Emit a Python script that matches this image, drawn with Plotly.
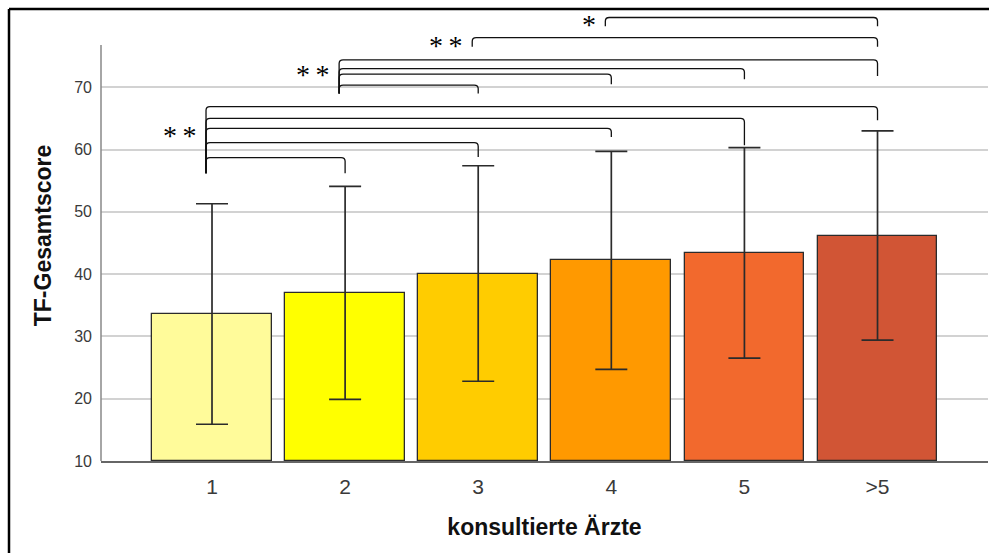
import plotly.graph_objects as go

# Mean TF total score by number of consulted physicians, with SD error bars
categories = ["1", "2", "3", "4", "5", ">5"]
means = [33.6, 37.0, 40.1, 42.2, 43.4, 46.2]
sd = [17.7, 17.1, 17.3, 17.5, 16.9, 16.8]
bar_colors = ["#FFFB9A", "#FFFF00", "#FFCC00", "#FF9900", "#F2692D", "#D15535"]
y_ticks = [10, 20, 30, 40, 50, 60, 70]

# Significance comparisons between groups (indices into categories)
comparisons_from_1 = [(0, 1), (0, 2), (0, 3), (0, 4), (0, 5)]
comparisons_from_2 = [(1, 2), (1, 3), (1, 4), (1, 5)]
comparisons_from_3 = [(2, 5)]
comparisons_from_4 = [(3, 5)]
stars = ["**", "**", "**", "*"]

# Bracket geometry in score units: tops, left drop, right drops, star level
bracket_sets = [
    (comparisons_from_1, [58.7, 61.1, 63.4, 65.0, 66.9], 56.2, [56.2, 58.8, 62.0, 60.7, 64.7], 62.8),
    (comparisons_from_2, [70.35, 72.1, 73.0, 74.4], 69.0, [69.0, 70.5, 71.3, 71.8], 72.6),
    (comparisons_from_3, [77.95], 76.5, [76.5], 77.2),
    (comparisons_from_4, [81.2], 79.8, [79.8], 80.5),
]

W, H = 989, 553
ML, MR, MT, MB = 101, 1, 10, 92
Y_MIN, Y_MAX = 10, 82.4
AXIS_TOP = 76.8
X_MIN, X_MAX = -0.834, 5.83

xs = list(range(len(categories)))

fig = go.Figure()
fig.add_trace(go.Bar(
    x=xs, y=[m - Y_MIN for m in means], base=Y_MIN,
    width=0.9,
    marker=dict(color=bar_colors, line=dict(color="#2b2b2b", width=1.3)),
    error_y=dict(type="data", array=sd, symmetric=True, color="#2b2b2b",
                 thickness=1.7, width=16),
    hoverinfo="skip", showlegend=False,
))

shapes = []
annotations = []
LEFT_NUDGE = -0.045
rx, ry = 0.03, 0.6  # corner rounding in data units


def bracket(x1, x2, top, drop_l, drop_r):
    path = (f"M {x1},{drop_l} L {x1},{top - ry} Q {x1},{top} {x1 + rx},{top} "
            f"L {x2 - rx},{top} Q {x2},{top} {x2},{top - ry} L {x2},{drop_r}")
    return dict(type="path", path=path, xref="x", yref="y",
                line=dict(color="#111111", width=1.3))


for (pairs, tops, drop_l, drops_r, star_y), star in zip(bracket_sets, stars):
    for (a, b), top, dr in zip(pairs, tops, drops_r):
        shapes.append(bracket(a + LEFT_NUDGE, b, top, drop_l, dr))
    a0 = pairs[0][0] + LEFT_NUDGE
    annotations.append(dict(
        x=a0, y=star_y, xref="x", yref="y", text="\u2009".join(star), showarrow=False,
        xanchor="right", yanchor="middle", xshift=-7, yshift=-3,
        font=dict(family="Liberation Serif", size=28, color="#000000"),
    ))

# y axis line only up to the top of the value scale
shapes.append(dict(type="line", xref="paper", yref="y", x0=0, x1=0,
                   y0=Y_MIN, y1=AXIS_TOP, line=dict(color="#888888", width=1.5)))

# outer frame
pw, ph = W - ML - MR, H - MT - MB
fx = (9 - ML) / pw
fy = (H - MB - 9) / ph
shapes.append(dict(type="line", xref="paper", yref="paper", x0=fx, x1=1.2,
                   y0=fy, y1=fy, line=dict(color="#000000", width=2.5)))
shapes.append(dict(type="line", xref="paper", yref="paper", x0=fx, x1=fx,
                   y0=fy, y1=-0.5, line=dict(color="#000000", width=2.5)))

fig.update_layout(
    width=W, height=H,
    margin=dict(l=ML, r=MR, t=MT, b=MB, pad=0),
    plot_bgcolor="white", paper_bgcolor="white",
    font=dict(family="Liberation Sans", color="#333333"),
    bargap=0,
    shapes=shapes, annotations=annotations,
    xaxis=dict(
        range=[X_MIN, X_MAX], tickvals=xs, ticktext=categories,
        showgrid=False, zeroline=False, showline=True,
        linecolor="#666666", linewidth=1.5,
        tickfont=dict(size=21, color="#3a3a3a"), ticks="", ticklabelstandoff=6,
        title=dict(text="<b>konsultierte Ärzte</b>", standoff=22,
                   font=dict(size=23, color="#111111")),
    ),
    yaxis=dict(
        range=[Y_MIN, Y_MAX], tickvals=y_ticks,
        showgrid=True, gridcolor="#d2d2d2", gridwidth=1.5,
        zeroline=False, showline=False,
        tickfont=dict(size=16, color="#3a3a3a"), ticks="", ticklabelstandoff=8,
        title=dict(text="<b>TF-Gesamtscore</b>", standoff=16,
                   font=dict(size=23, color="#111111")),
    ),
)

fig.write_html("out.html")
